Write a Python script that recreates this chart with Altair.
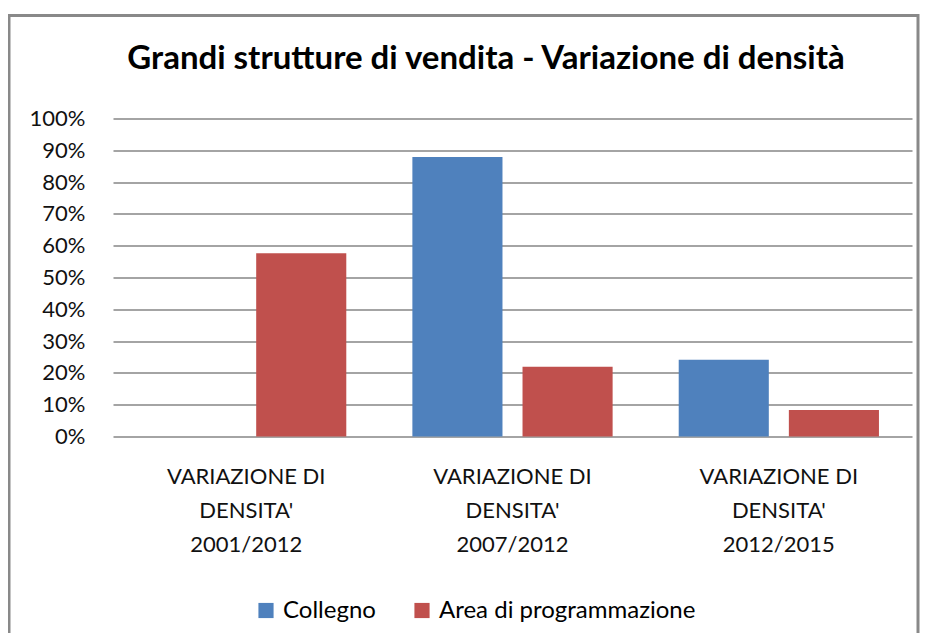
import altair as alt
import pandas as pd

title_text = "Grandi strutture di vendita - Variazione di densità"
categories = ["VARIAZIONE DI DENSITA' 2001/2012",
              "VARIAZIONE DI DENSITA' 2007/2012",
              "VARIAZIONE DI DENSITA' 2012/2015"]
series = ["Collegno", "Area di programmazione"]
collegno = [None, 0.879, 0.241]
area = [0.576, 0.219, 0.083]
colors = ["#4F81BD", "#C0504D"]

rows = []
for c, v in zip(categories, collegno):
    rows.append({"cat": c, "serie": series[0], "val": v})
for c, v in zip(categories, area):
    rows.append({"cat": c, "serie": series[1], "val": v})
df = pd.DataFrame(rows)

FONT = "Lato"

bars = alt.Chart(df).mark_bar().encode(
    x=alt.X("cat:N", sort=categories, title=None,
            scale=alt.Scale(paddingInner=0, paddingOuter=0),
            axis=alt.Axis(labelAngle=0, domain=False, ticks=False,
                          labelFont=FONT, labelFontSize=22, labelColor="#111",
                          labelLineHeight=34, labelPadding=30, labelBaseline="top",
                          labelExpr="[slice(datum.label,0,13), slice(datum.label,14,22), slice(datum.label,23)]")),
    xOffset=alt.XOffset("serie:N", sort=series,
                        scale=alt.Scale(paddingInner=0.182, paddingOuter=0.30)),
    y=alt.Y("val:Q", title=None,
            scale=alt.Scale(domain=[0, 1], nice=False),
            axis=alt.Axis(format=".0%", values=[i / 10 for i in range(11)],
                          domain=False, ticks=False, grid=True,
                          gridColor="#868686", gridWidth=1.3,
                          labelFont=FONT, labelFontSize=22, labelColor="#111",
                          labelPadding=28)),
    color=alt.Color("serie:N", sort=series,
                    scale=alt.Scale(domain=series, range=colors),
                    legend=alt.Legend(title=None, orient="none", direction="horizontal",
                                      legendX=141, legendY=480,
                                      symbolType="square", symbolSize=230,
                                      symbolStrokeWidth=0, symbolOpacity=1,
                                      labelFont=FONT, labelFontSize=24, labelColor="#000",
                                      labelLimit=400,
                                      columnPadding=34, labelOffset=5)),
)

frame = alt.Chart(alt.Data(values=[{}])).mark_rect(
    fill=None, stroke="#898989", strokeWidth=3
).encode(
    x=alt.value(-104), x2=alt.value(805), y=alt.value(-103), y2=alt.value(521)
)

title = alt.Chart(alt.Data(values=[{"t": title_text}])).mark_text(
    font=FONT, fontSize=33, fontWeight="bold", color="#000",
    align="center", baseline="alphabetic"
).encode(
    text="t:N", x=alt.value(373), y=alt.value(-50)
)

chart = alt.layer(frame, bars, title).properties(
    width=799, height=318,
    autosize=alt.AutoSizeParams(type="none"),
    padding={"left": 105, "top": 110.5, "right": 8, "bottom": 196},
).configure_view(stroke=None)

chart.save("out.html", embed_options={"renderer": "svg", "actions": False})
